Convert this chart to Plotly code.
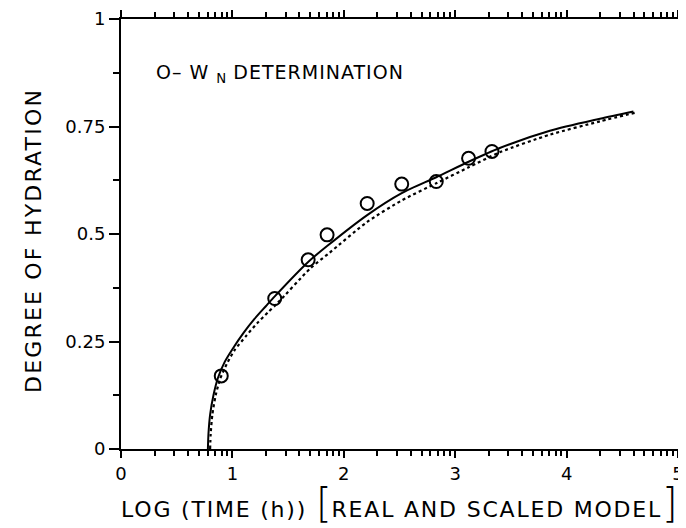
import plotly.graph_objects as go

# Measured data points (log time, degree of hydration)
obs_x = [0.90, 1.38, 1.68, 1.85, 2.21, 2.52, 2.83, 3.12, 3.33]
obs_y = [0.170, 0.350, 0.440, 0.498, 0.571, 0.616, 0.622, 0.676, 0.692]

# Real model (solid curve)
real_x = [0.78, 0.785, 0.80, 0.83, 0.87, 0.93, 1.00, 1.10, 1.20, 1.30, 1.38, 1.68, 1.85, 2.21, 2.52, 2.83, 3.12, 3.40, 3.85, 4.30, 4.60]
real_y = [0.0, 0.035, 0.080, 0.125, 0.165, 0.202, 0.232, 0.270, 0.303, 0.332, 0.355, 0.435, 0.472, 0.544, 0.595, 0.632, 0.668, 0.700, 0.740, 0.768, 0.785]

# Scaled model (dotted curve)
scaled_x = [0.80, 0.805, 0.82, 0.85, 0.89, 0.95, 1.02, 1.12, 1.22, 1.32, 1.40, 1.70, 1.87, 2.21, 2.52, 2.83, 3.12, 3.40, 3.85, 4.30, 4.63]
scaled_y = [0.0, 0.035, 0.080, 0.125, 0.163, 0.198, 0.230, 0.262, 0.292, 0.318, 0.338, 0.420, 0.456, 0.528, 0.578, 0.618, 0.655, 0.690, 0.731, 0.762, 0.783]

x_major = [0, 1, 2, 3, 4, 5]
x_major_text = ["0", "1", "2", "3", "4", "5"]
x_minor_offsets = [0.301, 0.477, 0.602, 0.699, 0.778, 0.845, 0.903, 0.954]
y_major = [0, 0.25, 0.5, 0.75, 1]
y_major_text = ["0", "0.25", "0.5", "0.75", "1"]
y_minor = [0.125, 0.375, 0.625, 0.875]

SP = "letter-spacing:1.8px"
BR = "font-size:40px;font-weight:200"
x_title = (f"<span style='{SP}'>LOG (TIME (h)) </span>"
           f"<span style='{BR}'>[</span>"
           f"<span style='{SP}'>REAL AND SCALED MODEL</span>"
           f"<span style='{BR}'>]</span>")
y_title = f"<span style='letter-spacing:2.2px'>DEGREE OF HYDRATION</span>"
key_text = "<span style='letter-spacing:1px'>O– W </span><sub>N</sub><span style='letter-spacing:1px'> DETERMINATION</span>"

x_minor = [d + o for d in range(5) for o in x_minor_offsets]

FONT = "DejaVu Sans"

fig = go.Figure()
fig.add_trace(go.Scatter(x=real_x, y=real_y, mode="lines",
                         line=dict(color="black", width=2, shape="spline", smoothing=0.7),
                         showlegend=False))
fig.add_trace(go.Scatter(x=scaled_x, y=scaled_y, mode="lines",
                         line=dict(color="black", width=2.2, dash="dot", shape="spline", smoothing=0.7),
                         showlegend=False))
fig.add_trace(go.Scatter(x=obs_x, y=obs_y, mode="markers",
                         marker=dict(symbol="circle-open", size=13, color="black",
                                     line=dict(width=2, color="black")),
                         showlegend=False))

fig.add_annotation(x=0.30, y=0.874, xref="x", yref="y",
                   text=key_text,
                   showarrow=False, xanchor="left", yanchor="middle",
                   font=dict(family=FONT, size=19, color="black"))
fig.add_annotation(x=0.5, y=-0.125, xref="paper", yref="paper",
                   text=x_title, showarrow=False, xanchor="center", yanchor="middle",
                   font=dict(family=FONT, size=22, color="black"))
fig.add_annotation(x=-0.158, y=0.486, xref="paper", yref="paper",
                   text=y_title, showarrow=False, textangle=-90,
                   xanchor="center", yanchor="middle",
                   font=dict(family=FONT, size=22, color="black"))

# The page body adds an 8px offset, so the figure is 678x520 with margins
# chosen to put the plot frame at x 121-678, y 19-449 in the window.
fig.update_layout(
    width=678, height=520,
    margin=dict(l=113, r=8, t=11, b=79, autoexpand=False),
    paper_bgcolor="white", plot_bgcolor="white",
    font=dict(family=FONT, color="black"),
    xaxis=dict(
        range=[0, 5], showgrid=False, zeroline=False, automargin=False,
        showline=True, linecolor="black", linewidth=2, mirror="allticks",
        tickmode="array", tickvals=x_major, ticktext=x_major_text,
        ticks="outside", ticklen=7, tickwidth=2, tickcolor="black",
        tickfont=dict(family=FONT, size=18),
        minor=dict(tickmode="array", tickvals=x_minor, ticks="outside",
                   ticklen=5, tickwidth=1.5, tickcolor="black"),
    ),
    yaxis=dict(
        range=[0, 1], showgrid=False, zeroline=False, automargin=False,
        showline=True, linecolor="black", linewidth=2, mirror="allticks",
        tickmode="array", tickvals=y_major, ticktext=y_major_text,
        ticks="outside", ticklen=10, tickwidth=2, tickcolor="black",
        tickfont=dict(family=FONT, size=18),
        minor=dict(tickmode="array", tickvals=y_minor, ticks="outside",
                   ticklen=6, tickwidth=1.5, tickcolor="black"),
    ),
)

fig.write_html("out.html")
